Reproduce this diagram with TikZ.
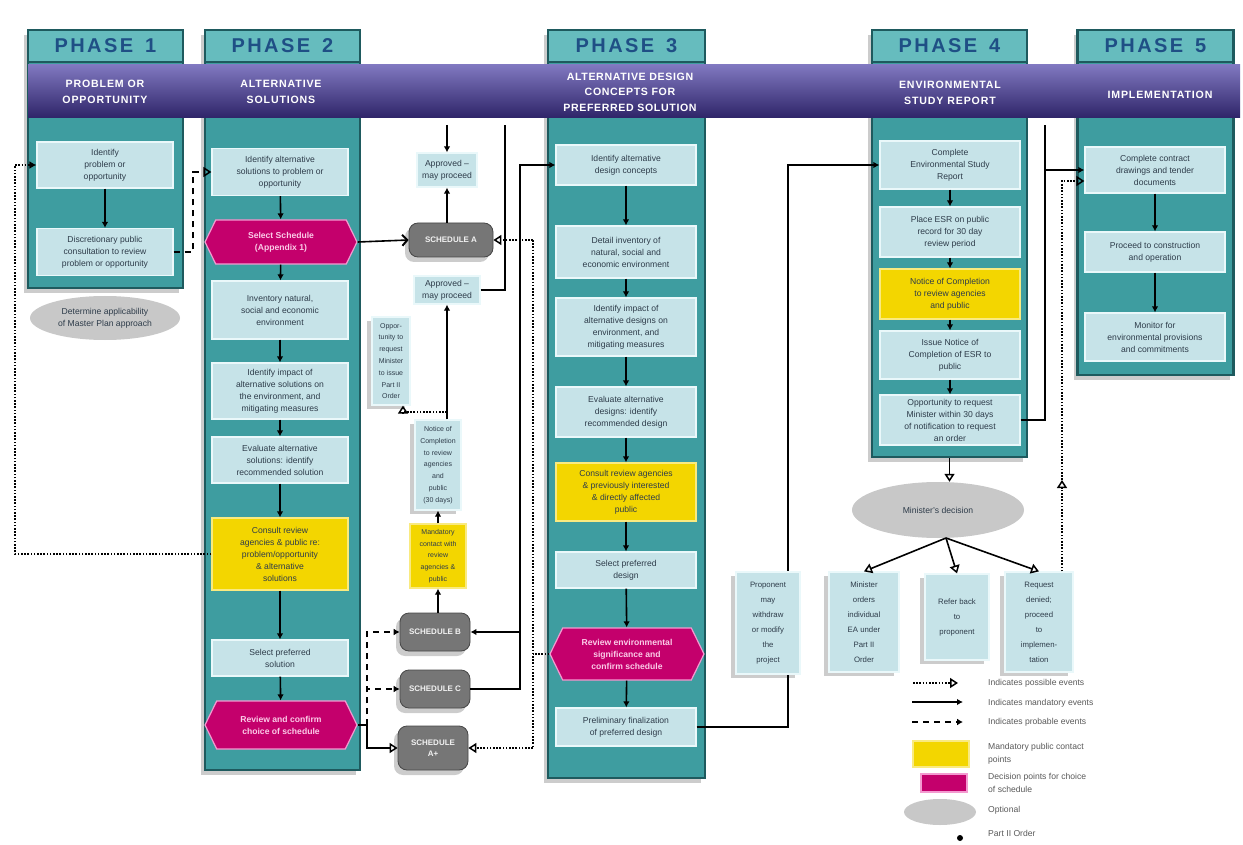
\documentclass[tikz,border=0pt]{standalone}
\usepackage{fontspec}
\setmainfont{Liberation Sans}
\usetikzlibrary{arrows.meta,shapes.symbols,shapes.geometric,shadows,calc}
\pgfdeclarelayer{bg}
\pgfsetlayers{bg,main}
\definecolor{bannerL}{HTML}{8078C0}
\definecolor{bannerP}{HTML}{40358A}
\definecolor{bannerD}{HTML}{2E2468}
\definecolor{colT}{HTML}{3E9DA0}
\definecolor{colD}{HTML}{1E5A5E}
\definecolor{colH}{HTML}{66BCBE}
\definecolor{hdrtxt}{HTML}{1F4F85}
\definecolor{boxB}{HTML}{C6E3E8}
\definecolor{boxE}{HTML}{EAF8FA}
\definecolor{yel}{HTML}{F3D600}
\definecolor{mag}{HTML}{C4006C}
\definecolor{magE}{HTML}{F39AD0}
\definecolor{gnode}{HTML}{767676}
\definecolor{ellc}{HTML}{C8C8C8}
\definecolor{txt}{HTML}{2E3C4A}
\definecolor{legtxt}{HTML}{5A5A5A}
\newcommand\bxfont{\fontsize{8.6}{12}\selectfont}
\newcommand\gbfont{\fontsize{8}{11}\selectfont\bfseries}
\newcommand\nbfont{\fontsize{7}{11.8}\selectfont}
\newcommand\qbfont{\fontsize{7.8}{15}\selectfont}
\newcommand\hdrfont{\fontsize{20}{20}\selectfont\bfseries\addfontfeature{LetterSpace=12}}
\newcommand\banfont{\fontsize{10.6}{16.5}\selectfont\bfseries\addfontfeature{LetterSpace=8}}
\newcommand\banfontc{\fontsize{10.6}{15.5}\selectfont\bfseries\addfontfeature{LetterSpace=6}}
\newcommand\legfont{\fontsize{8.6}{13}\selectfont}
\tikzset{
  col/.style={draw=colD, line width=2.5pt, fill=colT, inner sep=0pt,
    drop shadow={shadow xshift=-4pt, shadow yshift=-5pt, opacity=0.2, fill=black}},
  hdr/.style={fill=colH, draw=colD, line width=2.5pt, text=hdrtxt, font=\hdrfont, inner sep=0pt},
  box/.style={fill=boxB, draw=boxE, line width=1.2pt, text=txt, align=center, font=\bxfont, inner sep=1pt},
  sbox/.style={box, drop shadow={shadow xshift=-5pt, shadow yshift=-4pt, opacity=0.2, fill=black}},
  ybox/.style={box, fill=yel, draw=yel!50!white},
  mbox/.style={signal, signal to=west and east, signal pointer angle=128, fill=mag, draw=magE,
    line width=1.2pt, text=white!80!magenta, align=center, font=\bxfont\bfseries, inner sep=1pt},
  gbox/.style={fill=gnode, draw=gnode!60!black, rounded corners=9pt, text=white!90!gray, align=center,
    font=\gbfont, line width=.8pt, inner sep=1pt,
    drop shadow={shadow xshift=-4pt, shadow yshift=-5pt, opacity=0.2, fill=black}},
  ellnode/.style={ellipse, fill=ellc, text=txt, align=center, font=\bxfont, inner sep=0pt},
  bantext/.style={text=white, font=\banfont, align=center},
  legtext/.style={anchor=west, text=legtxt, font=\legfont, align=left, inner sep=0pt},
  mand/.style={line width=1.6pt, draw=black},
  marr/.style={mand, -{Latex[length=6pt,width=6.5pt]}},
  poss/.style={line width=1.8pt, draw=black, dash pattern=on 1.6pt off 1.6pt},
  oarr/.style={-{Triangle[open,length=8pt,width=10pt,line width=1.5pt]}},
  barb/.style={-{Straight Barb[length=5pt,width=11pt,line width=2pt]}},
  prob/.style={line width=2pt, draw=black, dash pattern=on 6pt off 5pt},
}
\begin{document}
\begin{tikzpicture}[x=1pt,y=-1pt]
\useasboundingbox (0,0) rectangle (1243,845);
\fill[white] (0,0) rectangle (1243,845);

% ---------- phase columns ----------
\node[col, minimum width=155, minimum height=258] (c1) at (105.5,159) {};
\node[col, minimum width=155, minimum height=740] (c2) at (282.5,400) {};
\node[col, minimum width=157, minimum height=748] (c3) at (626.5,404) {};
\node[col, minimum width=155, minimum height=427] (c4) at (949.5,243.5) {};
\node[col, minimum width=156, minimum height=345] (c5) at (1155.5,202.5) {};
\node[hdr, minimum width=155, minimum height=32] (h1) at (105.5,46) {PHASE\hspace{12pt}1};
\node[hdr, minimum width=155, minimum height=32] (h2) at (282.5,46) {PHASE\hspace{12pt}2};
\node[hdr, minimum width=157, minimum height=32] (h3) at (626.5,46) {PHASE\hspace{12pt}3};
\node[hdr, minimum width=155, minimum height=32] (h4) at (949.5,46) {PHASE\hspace{12pt}4};
\node[hdr, minimum width=156, minimum height=32] (h5) at (1155.5,46) {PHASE\hspace{12pt}5};

% ---------- banner ----------
\node[minimum width=1212, minimum height=53, inner sep=0pt,
      top color=bannerL, middle color=bannerP, bottom color=bannerD] (ban) at (634,91.5) {};
\node[bantext] (bt1) at (105,92) {PROBLEM OR\\OPPORTUNITY};
\node[bantext] (bt2) at (281,92) {ALTERNATIVE\\SOLUTIONS};
\node[bantext, font=\banfontc] (bt3) at (630,92) {ALTERNATIVE DESIGN\\CONCEPTS FOR\\PREFERRED SOLUTION};
\node[bantext] (bt4) at (950,93) {ENVIRONMENTAL\\STUDY REPORT};
\node[bantext] (bt5) at (1160,95) {IMPLEMENTATION};

% ---------- phase 1 ----------
\node[box, minimum width=136, minimum height=46] (p1a) at (105,165) {Identify\\problem or\\opportunity};
\node[box, minimum width=136, minimum height=47] (p1b) at (105,252) {Discretionary public\\consultation to review\\problem or opportunity};
\node[ellnode, minimum width=150, minimum height=44] (e1) at (105,318) {Determine applicability\\of Master Plan approach};

% ---------- phase 2 ----------
\node[box, minimum width=136, minimum height=47] (p2a) at (280,172) {Identify alternative\\solutions to problem or\\opportunity};
\node[mbox, minimum width=152, minimum height=44] (p2b) at (281,242) {Select Schedule\\(Appendix 1)};
\node[box, minimum width=136, minimum height=58] (p2c) at (280,310) {Inventory natural,\\social and economic\\environment};
\node[box, minimum width=136, minimum height=56] (p2d) at (280,391) {Identify impact of\\alternative solutions on\\the environment, and\\mitigating measures};
\node[box, minimum width=136, minimum height=46] (p2e) at (280,460) {Evaluate alternative\\solutions: identify\\recommended solution};
\node[ybox, minimum width=136, minimum height=72] (p2f) at (280,554) {Consult review\\agencies \& public re:\\problem/opportunity\\\& alternative\\solutions};
\node[box, minimum width=136, minimum height=36] (p2g) at (280,658) {Select preferred\\solution};
\node[mbox, minimum width=152, minimum height=48] (p2h) at (281,725) {Review and confirm\\choice of schedule};

% ---------- middle column ----------
\node[box, minimum width=60, minimum height=34] (m1) at (447,170) {Approved --\\may proceed};
\node[gbox, minimum width=84, minimum height=34] (m2) at (451,240) {SCHEDULE A};
\node[box, minimum width=66, minimum height=28] (m3) at (447,290) {Approved --\\may proceed};
\node[sbox, font=\nbfont, minimum width=38, minimum height=88] (m4) at (391,361) {Oppor-\\tunity to\\request\\Minister\\to issue\\Part II\\Order};
\node[sbox, font=\nbfont, minimum width=46, minimum height=90] (m5) at (438,465) {Notice of\\Completion\\to review\\agencies\\and\\public\\(30 days)};
\node[ybox, font=\nbfont, minimum width=56, minimum height=64] (m6) at (438,556) {Mandatory\\contact with\\review\\agencies \&\\public};
\node[gbox, minimum width=70, minimum height=38] (g1) at (435,632) {SCHEDULE B};
\node[gbox, minimum width=70, minimum height=38] (g2) at (435,689) {SCHEDULE C};
\node[gbox, minimum width=70, minimum height=44] (g3) at (433,748) {SCHEDULE\\A+};

% ---------- phase 3 ----------
\node[box, minimum width=140, minimum height=40] (p3a) at (626,165) {Identify alternative\\design concepts};
\node[box, minimum width=140, minimum height=52] (p3b) at (626,252) {Detail inventory of\\natural, social and\\economic environment};
\node[box, minimum width=140, minimum height=58] (p3c) at (626,327) {Identify impact of\\alternative designs on\\environment, and\\mitigating measures};
\node[box, minimum width=140, minimum height=50] (p3d) at (626,412) {Evaluate alternative\\designs: identify\\recommended design};
\node[ybox, minimum width=140, minimum height=58] (p3e) at (626,492) {Consult review agencies\\\& previously interested\\\& directly affected\\public};
\node[box, minimum width=140, minimum height=36] (p3f) at (626,570) {Select preferred\\design};
\node[mbox, minimum width=154, minimum height=52] (p3g) at (627,654) {Review environmental\\significance and\\confirm schedule};
\node[box, minimum width=140, minimum height=38] (p3h) at (626,727) {Preliminary finalization\\of preferred design};

% ---------- phase 4 ----------
\node[box, minimum width=140, minimum height=48] (p4a) at (950,165) {Complete\\Environmental Study\\Report};
\node[box, minimum width=140, minimum height=50] (p4b) at (950,232) {Place ESR on public\\record for 30 day\\review period};
\node[ybox, minimum width=140, minimum height=50] (p4c) at (950,294) {Notice of Completion\\to review agencies\\and public};
\node[box, minimum width=140, minimum height=48] (p4d) at (950,355) {Issue Notice of\\Completion of ESR to\\public};
\node[box, minimum width=140, minimum height=50] (p4e) at (950,420) {Opportunity to request\\Minister within 30 days\\of notification to request\\an order};

% ---------- phase 5 ----------
\node[box, minimum width=140, minimum height=46] (p5a) at (1155,170) {Complete contract\\drawings and tender\\documents};
\node[box, minimum width=140, minimum height=40] (p5b) at (1155,252) {Proceed to construction\\and operation};
\node[box, minimum width=140, minimum height=48] (p5c) at (1155,337) {Monitor for\\environmental provisions\\and commitments};

% ---------- coordinates ----------
\coordinate (t1) at (447,125);
\coordinate (tm) at (846,125);
\coordinate (t2) at (1045,125);
\coordinate (t5) at (505,125);
\coordinate (vx) at (788,400);
\coordinate (vr) at (520,400);
\coordinate (vdt) at (533,240);
\coordinate (vdb) at (533,748);
\coordinate (dk) at (367,700);
\coordinate (dl) at (15,360);
\coordinate (k1) at (193,210);
\coordinate (d1) at (447,412);
\coordinate (qv) at (1062,300);
\coordinate (qm) at (1062,480);
\coordinate (eb) at (946,538);

% ---------- connectors behind columns ----------
\begin{pgfonlayer}{bg}
\draw[mand] (t1) -- (t2);
\draw[marr] (t1) -- (tm);
\end{pgfonlayer}

% in-column flows
\foreach \a/\b in {p1a/p1b,p2a/p2b,p2b/p2c,p2c/p2d,p2d/p2e,p2e/p2f,p2f/p2g,p2g/p2h,
                   p3a/p3b,p3b/p3c,p3c/p3d,p3d/p3e,p3e/p3f,p3f/p3g,p3g/p3h,
                   p4a/p4b,p4b/p4c,p4c/p4d,p4d/p4e,p5a/p5b,p5b/p5c}
  \draw[marr] (\a) -- (\b);

% phase 1 / 2 links
\draw[poss, -{Latex[length=7pt,width=8pt]}] (p2f.west) -| (dl) |- (p1a.west);
\draw[prob, oarr] (p1b.east) -| (k1) |- (p2a.west);

% schedule A branch
\draw[mand, barb] (p2b.east) -- (m2.west);
\draw[marr] (m2.north -| m1.south) -- (m1.south);
\draw[marr] (t1) -- (m1.north);
\draw[mand] (m3.east) -| (t5);
\draw[marr] (m5.north -| m3.south) -- (m3.south);
\draw[poss, oarr] (d1) -| ([xshift=12pt]m4.south);
\draw[marr] (m6) -- (m5);
\draw[marr] (g1.north -| m6.south) -- (m6.south);

% schedule choice
\draw[mand, oarr] (p2h.east) -- (p2h.east -| dk) |- (g3.west);
\draw[prob, -{Latex[length=6pt,width=7pt]}] (p2h.east -| dk) |- (g2.west);
\draw[prob, -{Latex[length=6pt,width=7pt]}] (p2h.east -| dk) |- (g1.west);
\draw[marr] (g2.east) -| (vr) |- (p3a.west);
\draw[marr] (g1.east -| vr) -- (g1.east);
\draw[poss] (vdt) -- (vdb);
\draw[poss] (p3g.west) -- (p3g.west -| vdt);
\draw[poss, oarr] (vdb) -- (g3.east);
\draw[poss, oarr] (vdt) -- (m2.east);

% phase 3 to phase 4
\draw[marr] (p3h.east) -| (vx) |- (p4a.west);

% phase 4 to phase 5
\draw[mand] (p4e.east) -| (t2);
\draw[marr] (t2 |- p5a.west) -- (p5a.west);

% ---------- Part II order outcomes ----------
\node[ellnode, minimum width=172, minimum height=56] (ell4) at (938,510) {Minister's decision};
\node[sbox, font=\qbfont, minimum width=64, minimum height=102] (q1) at (768,623) {Proponent\\may\\withdraw\\or modify\\the\\project};
\node[sbox, font=\qbfont, minimum width=70, minimum height=100] (q2) at (864,622) {Minister\\orders\\individual\\EA under\\Part II\\Order};
\node[sbox, font=\qbfont, minimum width=64, minimum height=86] (q3) at (957,617) {Refer back\\to\\proponent};
\node[sbox, font=\qbfont, minimum width=68, minimum height=100] (q4) at (1039,622) {Request\\denied;\\proceed\\to\\implemen-\\tation};
\draw[mand, oarr] (c4.south) -- (c4.south |- ell4.north);
\draw[mand, oarr] (eb) -- (q2.north);
\draw[mand, oarr] (eb) -- (q3.north);
\draw[mand, oarr] (eb) -- (q4.north);
\draw[poss, oarr] (q4.north -| qv) -- (qm);
\draw[poss, oarr] (qm) -- (qv) |- ([yshift=-11pt]p5a.west);

% ---------- legend ----------
\coordinate (l1a) at (913,683); \coordinate (l1b) at (958,683);
\coordinate (l2a) at (912,702); \coordinate (l2b) at (963,702);
\coordinate (l3a) at (912,722); \coordinate (l3b) at (963,722);
\draw[poss, oarr] (l1a) -- (l1b);
\draw[marr] (l2a) -- (l2b);
\draw[prob, -{Latex[length=6pt,width=7pt]}] (l3a) -- (l3b);
\node[fill=yel, draw=yel!50!white, line width=1.5pt, minimum width=56, minimum height=26] (ly) at (941,754) {};
\node[fill=mag, draw=magE, line width=1.5pt, minimum width=46, minimum height=18] (lm) at (944,783) {};
\node[ellipse, fill=ellc, minimum width=72, minimum height=26] (le) at (940,812) {};
\node[circle, fill=black, inner sep=0pt, minimum size=6] (ld) at (960,838) {};
\node[legtext] (lt1) at (988,683) {Indicates possible events};
\node[legtext] (lt2) at (988,703) {Indicates mandatory events};
\node[legtext] (lt3) at (988,722) {Indicates probable events};
\node[legtext] (lt4) at (988,754) {Mandatory public contact\\points};
\node[legtext] (lt5) at (988,783) {Decision points for choice\\of schedule};
\node[legtext] (lt6) at (988,810) {Optional};
\node[legtext] (lt7) at (988,833) {Part II Order};
\end{tikzpicture}
\end{document}
